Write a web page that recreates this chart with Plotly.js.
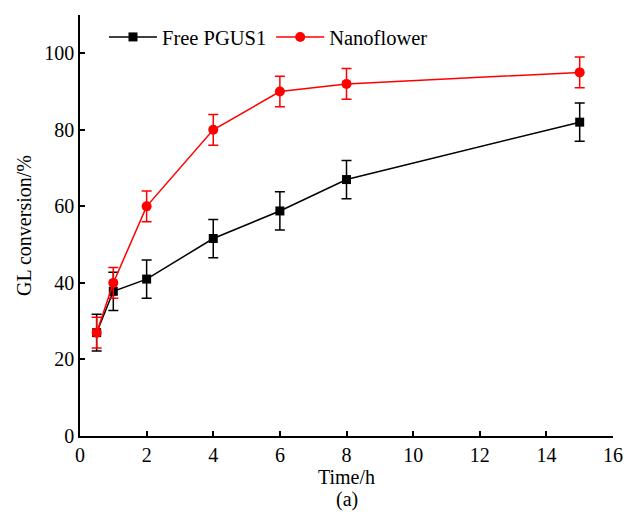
<!DOCTYPE html>
<html>
<head>
<meta charset="utf-8">
<script src="https://cdn.plot.ly/plotly-3.0.1.min.js"></script>
<style>html,body{margin:0;padding:0;background:#fff;}#chart{width:627px;height:515px;}</style>
</head>
<body>
<div id="chart"></div>
<script>
const timeH = [0.5, 1, 2, 4, 6, 8, 15];
const freeVals = [27, 37.8, 41, 51.6, 58.8, 67, 82];
const freeErr = [4.8, 5, 5, 5, 5, 5, 5];
const nanoVals = [27, 40, 60, 80, 90, 92, 95];
const nanoErr = [4, 4, 4, 4, 4, 4, 4];
const seriesNames = ["Free PGUS1", "Nanoflower"];

const fam = "Liberation Serif";
const font = {family: fam, color: "#000", size: 20};

const traces = [
  {x: timeH, y: freeVals, name: seriesNames[0], type: "scatter", mode: "lines+markers",
   line: {color: "#000", width: 1.5}, marker: {symbol: "square", size: 9, color: "#000"},
   error_y: {type: "data", array: freeErr, visible: true, color: "#000", thickness: 1.5, width: 5}},
  {x: timeH, y: nanoVals, name: seriesNames[1], type: "scatter", mode: "lines+markers",
   line: {color: "#ff0000", width: 1.5}, marker: {symbol: "circle", size: 10, color: "#ff0000"},
   error_y: {type: "data", array: nanoErr, visible: true, color: "#ff0000", thickness: 1.5, width: 5}}
];

const layout = {
  width: 627, height: 515,
  margin: {l: 80, r: 14, t: 15, b: 79},
  paper_bgcolor: "#fff", plot_bgcolor: "#fff",
  font: font,
  showlegend: true,
  legend: {orientation: "h", x: 0.045, y: 0.995, xanchor: "left", yanchor: "top",
           bgcolor: "rgba(0,0,0,0)", font: {family: fam, size: 20.5, color: "#000"}, itemwidth: 48},
  xaxis: {range: [0, 16], tickvals: [0,2,4,6,8,10,12,14,16], showgrid: false, zeroline: false,
          showline: true, linecolor: "#000", linewidth: 1.5, ticks: "inside", ticklen: 5,
          tickcolor: "#000", tickwidth: 1.5, tickfont: {family: fam, size: 20, color: "#000"},
          title: {text: "Time/h", font: {family: fam, size: 20, color: "#000"}, standoff: 0}},
  yaxis: {range: [0, 110], tickvals: [0,20,40,60,80,100], showgrid: false, zeroline: false,
          showline: true, linecolor: "#000", linewidth: 1.5, ticks: "inside", ticklen: 5,
          tickcolor: "#000", tickwidth: 1.5, tickfont: {family: fam, size: 20, color: "#000"},
          title: {text: "GL conversion/%", font: {family: fam, size: 20, color: "#000"}, standoff: 7}},
  annotations: [{text: "(a)", xref: "paper", yref: "paper", x: 0.5, y: 0, yshift: -50, yanchor: "top",
                 showarrow: false, font: {family: fam, size: 20, color: "#000"}}]
};

Plotly.newPlot("chart", traces, layout, {displayModeBar: false});
</script>
</body>
</html>
